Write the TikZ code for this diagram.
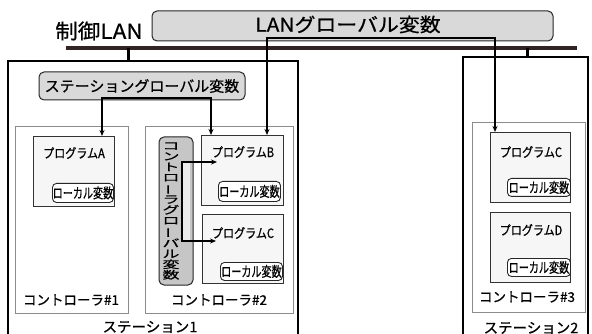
\documentclass[tikz,border=0pt]{standalone}
\usepackage{fontspec}
\usepackage{graphicx}
\setmainfont{Noto Sans CJK JP}[FakeBold=0.7]
\newfontfamily\jpw{Noto Sans CJK JP}[FakeStretch=1.1,FakeBold=0.7]
\newfontfamily\jpn{Noto Sans CJK JP}[FakeStretch=0.85,FakeBold=0.7]
\newfontfamily\jpl{Noto Sans CJK JP}[FakeStretch=0.72,FakeBold=0.7]
\usetikzlibrary{arrows.meta,positioning}
\definecolor{busc}{RGB}{50,36,36}
\newcommand{\vbarch}{\rotatebox[origin=c]{90}{ー}}
\tikzset{
  gbox/.style={draw=black!85, fill=gray!30, rounded corners=5pt, line width=1pt, inner sep=0pt},
  cgbox/.style={draw=black!85, fill=gray!45, rounded corners=5pt, line width=1pt, inner sep=0pt},
  stbox/.style={draw=black, line width=1.3pt},
  ctbox/.style={draw=black!45, line width=0.8pt, inner sep=0pt},
  pgbox/.style={draw=black!80, fill=gray!7, line width=1pt, inner sep=0pt},
  lcbox/.style={draw=black!85, fill=white, rounded corners=4pt, line width=0.9pt, inner sep=0pt, font=\jpl\fontsize{14}{14}\selectfont},
  pglabel/.style={inner sep=0pt, font=\jpn\fontsize{13}{13}\selectfont},
  ctlabel/.style={inner sep=0pt, font=\fontsize{13.5}{13.5}\selectfont},
  stlabel/.style={inner sep=0pt, font=\fontsize{14.5}{14.5}\selectfont},
  busline/.style={draw=busc, line width=4.5pt},
  stub/.style={draw=black, line width=3pt},
  conn/.style={draw=black, line width=1.1pt, {Stealth[length=6pt,width=5pt]}-{Stealth[length=6pt,width=5pt]}},
}
\begin{document}
\begin{tikzpicture}[x=1pt,y=-1pt]
\useasboundingbox (0,0) rectangle (592,334);
\fill[white] (0,0) rectangle (592,334);

% stations
\draw[stbox] (8,61) rectangle (298,345);
\draw[stbox] (463,57) rectangle (588,345);
\coordinate (st1top) at (128,61);
\coordinate (st2top) at (527,57);

% bus
\coordinate (busL) at (66,48);
\coordinate (busR) at (577,48);
\draw[busline] (busL) -- (busR);
\draw[stub] (st1top) -- (st1top |- busL);
\draw[stub] (st2top) -- (st2top |- busL);
\node[inner sep=0pt, font=\jpw\fontsize{20.5}{20.5}\selectfont] (lanlbl) at (99,31) {制御LAN};

% LAN global variable
\node[gbox, minimum width=401pt, minimum height=30pt] (langv) at (352.5,26) {};
\node[inner sep=0pt, font=\jpw\fontsize{19}{19}\selectfont] (langvt) at (348,24.5) {LANグローバル変数};

% station global variable
\node[gbox, minimum width=206pt, minimum height=28pt] (stgv) at (142,86) {};
\node[inner sep=0pt, font=\fontsize{15}{15}\selectfont] (stgvt) at (142,86) {ステーショングローバル変数};

% controllers
\node[ctbox, minimum width=113pt, minimum height=187pt, anchor=north west] (ct1) at (15,126) {};
\node[ctbox, minimum width=148pt, minimum height=187pt, anchor=north west] (ct2) at (145,126) {};
\node[ctbox, minimum width=113pt, minimum height=190pt, anchor=north west] (ct3) at (472,122) {};
\node[ctlabel] (ct1l) at (71,300) {コントローラ\#1};
\node[ctlabel] (ct2l) at (219,300) {コントローラ\#2};
\node[ctlabel] (ct3l) at (527,297) {コントローラ\#3};
\node[stlabel] (st1l) at (150,327) {ステーション1};
\node[stlabel] (st2l) at (531,328) {ステーション2};

% programs
\node[pgbox, minimum width=81pt, minimum height=70pt, anchor=north west] (pA) at (33,136) {};
\node[pglabel] (pAl) at (74,153) {プログラムA};
\node[lcbox, minimum width=61pt, minimum height=19pt, anchor=north west] (lA) at (52,183) {ローカル変数};

\node[pgbox, minimum width=82pt, minimum height=70pt, anchor=north west] (pB) at (201,135) {};
\node[pglabel] (pBl) at (243,152) {プログラムB};
\node[lcbox, minimum width=62pt, minimum height=20pt, anchor=north west] (lB) at (218,181) {ローカル変数};

\node[pgbox, minimum width=81pt, minimum height=69pt, anchor=north west] (pC) at (202,214) {};
\node[pglabel] (pCl) at (243,233) {プログラムC};
\node[lcbox, minimum width=62pt, minimum height=18pt, anchor=north west] (lC) at (220,262) {ローカル変数};

\node[pgbox, minimum width=80pt, minimum height=70pt, anchor=north west] (pC2) at (490,132) {};
\node[pglabel] (pC2l) at (531,152) {プログラムC};
\node[lcbox, minimum width=63pt, minimum height=18pt, anchor=north west] (lC2) at (507,178) {ローカル変数};

\node[pgbox, minimum width=80pt, minimum height=70pt, anchor=north west] (pD) at (490,212) {};
\node[pglabel] (pDl) at (531,230) {プログラムD};
\node[lcbox, minimum width=63pt, minimum height=18pt, anchor=north west] (lD) at (507,258) {ローカル変数};

% controller global variable
\node[cgbox, minimum width=34pt, minimum height=148pt] (cgv) at (176,211) {};
\fill[gray!15] (182,162) rectangle (190,241);
\node[inner sep=0pt] (cgvt) at (171,211) {\scalebox{1}[0.62]{\begin{minipage}{20pt}\centering\fontsize{17}{17}\selectfont
コ\\ン\\ト\\ロ\\\vbarch\\ラ\\グ\\ロ\\\vbarch\\バ\\ル\\変\\数\end{minipage}}};

% connectors
\coordinate (lanA) at (267,38);
\coordinate (lanB) at (495,38);
\draw[conn] (pB.north -| lanA) -- (lanA) -- (lanB) -- (pC2.north -| lanB);

\coordinate (sgA) at (102,98);
\coordinate (sgB) at (211,98);
\draw[conn] (pA.north -| sgA) -- (sgA) -- (sgB) -- (pB.north -| sgB);

\coordinate (cgA) at (182,162);
\coordinate (cgB) at (182,241);
\coordinate (cgAt) at (217,162);
\coordinate (cgBt) at (216,241);
\draw[conn] (cgAt) -- (cgA) -- (cgB) -- (cgBt);
\end{tikzpicture}
\end{document}
